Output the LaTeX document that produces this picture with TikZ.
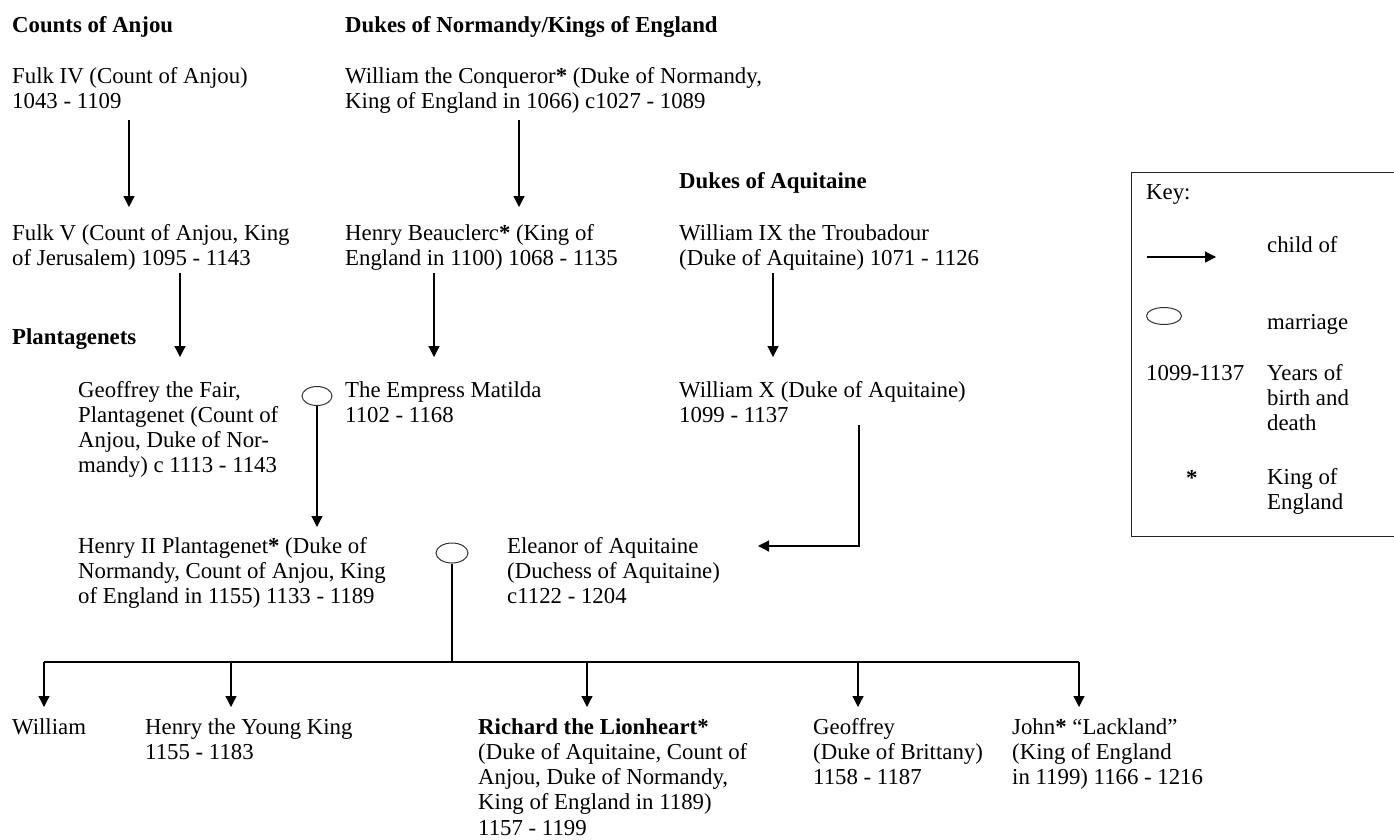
\documentclass[tikz,border=0pt]{standalone}
\usepackage{fontspec}
\setmainfont{Liberation Serif}
\usetikzlibrary{arrows.meta,shapes.geometric}
\newcommand\lines[1]{\begin{tabular}[t]{@{}l@{}}#1\end{tabular}}
\newcommand\st{\textbf{*}}
\begin{document}
\begin{tikzpicture}[x=1pt,y=-1pt,
  txt/.style={anchor=base west,inner sep=0pt,font=\fontsize{22.8}{25.3}\selectfont},
  hd/.style={txt,font=\fontsize{22.8}{25.3}\selectfont\bfseries},
  arr/.style={line width=1.2pt,-{Triangle[length=11pt,width=11pt]}},
  ln/.style={line width=1.2pt},
  marr/.style={draw=black!80,line width=1pt,ellipse,inner sep=0pt,minimum width=30pt,minimum height=19pt}]
\useasboundingbox (0,0) rectangle (1394,839);

% headings
\node[hd] (hanjou) at (12,32) {Counts of Anjou};
\node[hd] (hnorm) at (345,32) {Dukes of Normandy/Kings of England};
\node[hd] (haquit) at (679,188) {Dukes of Aquitaine};
\node[hd] (hplant) at (12,344) {Plantagenets};

% people
\node[txt] (fulk4) at (12,83) {\lines{Fulk IV (Count of Anjou)\\1043 - 1109}};
\node[txt] (will1) at (345,83) {\lines{William the Conqueror\st{} (Duke of Normandy,\\King of England in 1066) c1027 - 1089}};
\node[txt] (fulk5) at (12,240) {\lines{Fulk V (Count of Anjou, King\\of Jerusalem) 1095 - 1143}};
\node[txt] (henry1) at (345,240) {\lines{Henry Beauclerc\st{} (King of\\England in 1100) 1068 - 1135}};
\node[txt] (will9) at (679,240) {\lines{William IX the Troubadour\\(Duke of Aquitaine) 1071 - 1126}};
\node[txt] (geof) at (78,397) {\lines{Geoffrey the Fair,\\Plantagenet (Count of\\Anjou, Duke of Nor-\\mandy) c 1113 - 1143}};
\node[txt] (matilda) at (345,397) {\lines{The Empress Matilda\\1102 - 1168}};
\node[txt] (will10) at (679,397) {\lines{William X (Duke of Aquitaine)\\1099 - 1137}};
\node[txt] (henry2) at (78,553) {\lines{Henry II Plantagenet\st{} (Duke of\\Normandy, Count of Anjou, King\\of England in 1155) 1133 - 1189}};
\node[txt] (eleanor) at (507,553) {\lines{Eleanor of Aquitaine\\(Duchess of Aquitaine)\\c1122 - 1204}};

% children
\node[txt] (cwill) at (12,734) {William};
\node[txt] (chenry) at (145,734) {\lines{Henry the Young King\\1155 - 1183}};
\node[txt] (crich) at (478,734) {\lines{\textbf{Richard the Lionheart*}\\(Duke of Aquitaine, Count of\\Anjou, Duke of Normandy,\\King of England in 1189)\\1157 - 1199}};
\node[txt] (cgeof) at (813,734) {\lines{Geoffrey\\(Duke of Brittany)\\1158 - 1187}};
\node[txt] (cjohn) at (1012,734) {\lines{John\st{} “Lackland”\\(King of England\\in 1199) 1166 - 1216}};

% marriages
\node[marr] (m1) at (317,396) {};
\node[marr,minimum width=32pt,minimum height=20pt] (m2) at (452,553) {};

% child-of arrows
\draw[arr] ([xshift=117pt,yshift=-37pt]fulk4.base west) -- ([xshift=117pt,yshift=33pt]fulk5.base west);
\draw[arr] ([xshift=174pt,yshift=-37pt]will1.base west) -- ([xshift=174pt,yshift=33pt]henry1.base west);
\draw[arr] ([xshift=168pt,yshift=-33pt]fulk5.base west) -- ([xshift=102pt,yshift=40pt]geof.base west);
\draw[arr] ([xshift=89pt,yshift=-33pt]henry1.base west) -- ([xshift=89pt,yshift=40pt]matilda.base west);
\draw[arr] ([xshift=94pt,yshift=-33pt]will9.base west) -- ([xshift=94pt,yshift=40pt]will10.base west);
\draw[arr] (m1.south) -- ([xshift=239pt,yshift=26pt]henry2.base west);
\draw[arr] ([xshift=180pt,yshift=-28pt]will10.base west) |- ([xshift=251pt,yshift=7pt]eleanor.base west);

% children bus
\coordinate (bus) at (452,662);
\coordinate (busL) at (44,662);
\coordinate (busR) at (1079,662);
\draw[ln] (m2.south) -- (bus);
\draw[ln] (busL) -- (busR);
\draw[arr] (busL) -- ([xshift=32pt,yshift=27pt]cwill.base west);
\draw[arr] ([xshift=86pt,yshift=72pt]chenry.base west) -- ([xshift=86pt,yshift=27pt]chenry.base west);
\draw[arr] ([xshift=109pt,yshift=72pt]crich.base west) -- ([xshift=109pt,yshift=27pt]crich.base west);
\draw[arr] ([xshift=45pt,yshift=72pt]cgeof.base west) -- ([xshift=45pt,yshift=27pt]cgeof.base west);
\draw[arr] (busR) -- ([xshift=67pt,yshift=27pt]cjohn.base west);

% key
\node[draw=black!85,line width=1.2pt,anchor=north west,inner sep=0pt,minimum width=280pt,minimum height=364pt] (key) at (1131,172) {};
\node[txt] (keyt) at (1146,199) {Key:};
\coordinate (ka) at (1147,257);
\coordinate (kb) at (1216,257);
\draw[arr] (ka) -- (kb);
\node[txt] (kchild) at (1267,252) {child of};
\node[marr,minimum width=35pt,minimum height=17pt] (kmarr) at (1164,316) {};
\node[txt] (kmarrt) at (1267,329) {marriage};
\node[txt] (kyears) at (1146,380) {1099-1137};
\node[txt] (kyearst) at (1267,380) {\lines{Years of\\birth and\\death}};
\node[txt] (kstar) at (1186,485) {\st};
\node[txt] (kking) at (1267,484) {\lines{King of\\England}};
\end{tikzpicture}
\end{document}
